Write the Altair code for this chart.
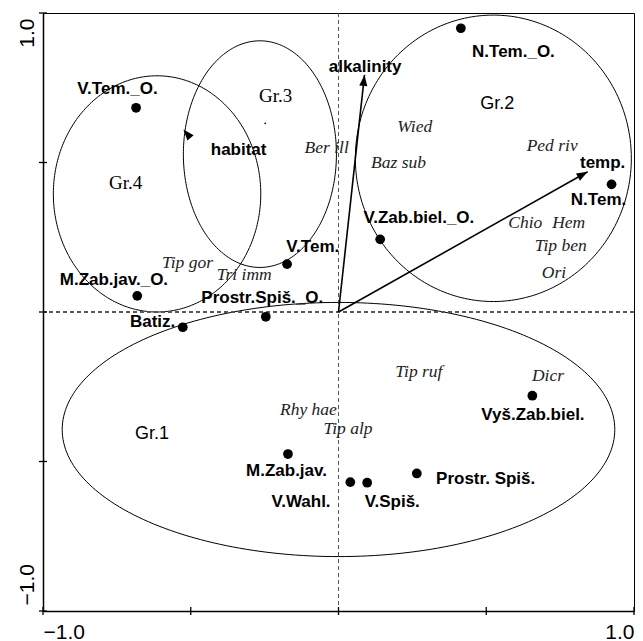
import math
import numpy as np
import pandas as pd
import altair as alt

# ---------------- data (axis units) ----------------
site_names = ["N.Tem._O.", "N.Tem.", "V.Zab.biel._O.", "V.Tem._O.", "V.Tem.",
              "M.Zab.jav._O.", "Prostr.Spiš._O.", "Batiz.", "M.Zab.jav.",
              "V.Wahl.", "V.Spiš.", "Prostr. Spiš.", "Vyš.Zab.biel."]
site_x = [0.414, 0.924, 0.141, -0.685, -0.174, -0.681, -0.246, -0.527, -0.171,
          0.040, 0.097, 0.265, 0.656]
site_y = [0.949, 0.427, 0.243, 0.683, 0.160, 0.054, -0.016, -0.051, -0.475,
          -0.569, -0.571, -0.540, -0.280]
site_label_x = [0.592, 0.880, 0.272, -0.748, -0.087, -0.760, -0.258, -0.629,
                -0.176, -0.127, 0.182, 0.498, 0.658]
site_label_y = [0.871, 0.375, 0.313, 0.745, 0.218, 0.107, 0.046, -0.032,
                -0.532, -0.634, -0.634, -0.560, -0.344]

species_names = ["Ber ill", "Wied", "Baz sub", "Ped riv", "Chio", "Hem", "Tip ben",
                 "Ori", "Tip gor", "Tri imm", "Tip ruf", "Dicr", "Rhy hae", "Tip alp"]
species_x = [-0.040, 0.258, 0.203, 0.723, 0.632, 0.779, 0.752, 0.729, -0.511,
             -0.319, 0.272, 0.709, -0.102, 0.032]
species_y = [0.548, 0.620, 0.497, 0.556, 0.299, 0.299, 0.221, 0.131, 0.163,
             0.124, -0.200, -0.214, -0.328, -0.392]

env_names = ["alkalinity", "temp.", "habitat"]
env_x = [0.088, 0.843, -0.525]
env_y = [0.793, 0.469, 0.610]
env_label_x = [0.090, 0.894, -0.338]
env_label_y = [0.820, 0.497, 0.542]
env_shaft_drawn = ["alkalinity", "temp."]

group_names = ["Gr.1", "Gr.2", "Gr.3", "Gr.4"]
group_cx = [0.0, 0.524, -0.266, -0.614]
group_cy = [-0.393, 0.514, 0.528, 0.395]
group_rx = [0.935, 0.467, 0.259, 0.351]
group_ry = [0.425, 0.479, 0.379, 0.395]
group_label_x = [-0.631, 0.537, -0.213, -0.720]
group_label_y = [-0.409, 0.695, 0.722, 0.432]
sans_groups = ["Gr.1", "Gr.2"]

centroid_x = [-0.248]
centroid_y = [0.631]

tick_values = [-1.0, -0.5, 0.0, 0.5, 1.0]
tick_labels = [-1.0, 1.0]

# ---------------- tables ----------------
sites = pd.DataFrame({"name": site_names, "x": site_x, "y": site_y,
                      "lx": site_label_x, "ly": site_label_y})
species = pd.DataFrame({"name": species_names, "x": species_x, "y": species_y})
env = pd.DataFrame({"name": env_names, "x": env_x, "y": env_y,
                    "lx": env_label_x, "ly": env_label_y,
                    "x0": [0.0] * len(env_names), "y0": [0.0] * len(env_names)})
env["ang"] = [(math.degrees(math.atan2(a, b)) + 360) % 360 for a, b in zip(env_x, env_y)]
shafts = env[env["name"].isin(env_shaft_drawn)]

rows = []
t = np.linspace(0, 2 * np.pi, 241)
for g, cx, cy, rx, ry in zip(group_names, group_cx, group_cy, group_rx, group_ry):
    for i, tt in enumerate(t):
        rows.append({"group": g, "i": i, "x": cx + rx * np.cos(tt), "y": cy + ry * np.sin(tt)})
ell = pd.DataFrame(rows)
glabels = pd.DataFrame({"name": group_names, "x": group_label_x, "y": group_label_y})
centroid = pd.DataFrame({"x": centroid_x, "y": centroid_y})
ticks = pd.DataFrame({"t": tick_values})

# ---------------- scales / axes ----------------
xs = alt.Scale(domain=[-1, 1], nice=False, zero=False)
ys = alt.Scale(domain=[-1, 1], nice=False, zero=False)
xaxis = alt.Axis(values=tick_labels, format=".1f", title=None, grid=False, ticks=False,
                 tickSize=0, domainColor="black", domainWidth=1.5, labelFlush=True,
                 labelFont="Liberation Sans", labelFontSize=21, labelColor="black",
                 labelBaseline="alphabetic", labelPadding=27)
yaxis = alt.Axis(values=tick_labels, format=".1f", title=None, grid=False, ticks=False,
                 tickSize=0, domainColor="black", domainWidth=1.5, labelFlush=False,
                 labelFont="Liberation Sans", labelFontSize=21, labelColor="black",
                 labelAngle=270, labelBaseline="alphabetic", labelPadding=10,
                 labelAlign={"condition": {"test": "datum.value > 0", "value": "right"}, "value": "left"},
                 labelOffset={"condition": {"test": "datum.value > 0", "value": 5}, "value": -6})


def X(f):
    return alt.X(f, type="quantitative", scale=xs, axis=xaxis)


def Y(f):
    return alt.Y(f, type="quantitative", scale=ys, axis=yaxis)


ellipses = alt.Chart(ell).mark_line(color="black", strokeWidth=1).encode(
    x=X("x"), y=Y("y"), order="i:Q", detail="group:N")

zero_v = alt.Chart(ticks).mark_rule(color="#555", strokeWidth=1, strokeDash=[4, 3]).encode(
    x=alt.X(datum=0, type="quantitative", scale=xs, axis=xaxis))
zero_h = alt.Chart(ticks).mark_rule(color="#555", strokeWidth=1, strokeDash=[4, 3]).encode(
    y=alt.Y(datum=0, type="quantitative", scale=ys, axis=yaxis))

shaft = alt.Chart(shafts).mark_rule(color="black", strokeWidth=1.6).encode(
    x=X("x0"), y=Y("y0"), x2="x", y2="y")
heads = alt.Chart(env).mark_point(shape="M0,0L-0.37,1L0.37,1Z", filled=True, opacity=1,
                                  color="black", size=484).encode(
    x=X("x"), y=Y("y"), angle=alt.Angle("ang:Q", scale=None))

points = alt.Chart(sites).mark_circle(color="black", size=95, opacity=1).encode(
    x=X("x"), y=Y("y"))
cent = alt.Chart(centroid).mark_circle(color="black", size=3, opacity=1).encode(
    x=X("x"), y=Y("y"))

site_text = alt.Chart(sites).mark_text(font="Liberation Sans", fontWeight="bold", fontSize=17,
                                       color="black", align="center", baseline="middle").encode(
    x=X("lx"), y=Y("ly"), text="name:N")
env_text = alt.Chart(env).mark_text(font="Liberation Sans", fontWeight="bold", fontSize=17,
                                    color="black", align="center", baseline="middle").encode(
    x=X("lx"), y=Y("ly"), text="name:N")
sp_text = alt.Chart(species).mark_text(font="Liberation Serif", fontStyle="italic", fontSize=17.5,
                                       color="#222", align="center", baseline="middle").encode(
    x=X("x"), y=Y("y"), text="name:N")
g_sans = alt.Chart(glabels[glabels["name"].isin(sans_groups)]).mark_text(
    font="Liberation Sans", fontSize=18, color="black", align="center", baseline="middle").encode(
    x=X("x"), y=Y("y"), text="name:N")
g_serif = alt.Chart(glabels[~glabels["name"].isin(sans_groups)]).mark_text(
    font="Liberation Serif", fontSize=19, color="black", align="center", baseline="middle").encode(
    x=X("x"), y=Y("y"), text="name:N")

xticks = alt.Chart(ticks).mark_rule(color="black", strokeWidth=1.3).encode(
    x=X("t"), y=alt.value(594), y2=alt.value(602))
yticks = alt.Chart(ticks).mark_rule(color="black", strokeWidth=1.3).encode(
    y=Y("t"), x=alt.value(-4), x2=alt.value(4))

chart = alt.layer(ellipses, zero_v, zero_h, shaft, heads, points, cent,
                  site_text, env_text, sp_text, g_sans, g_serif, xticks, yticks).properties(
    width=591, height=598,
    padding={"left": 35, "top": 5, "right": 1, "bottom": 30},
    autosize=alt.AutoSizeParams(type="none"),
).configure_view(stroke="black", strokeWidth=1)

chart.save("out.html", embed_options={"renderer": "svg", "actions": False})
